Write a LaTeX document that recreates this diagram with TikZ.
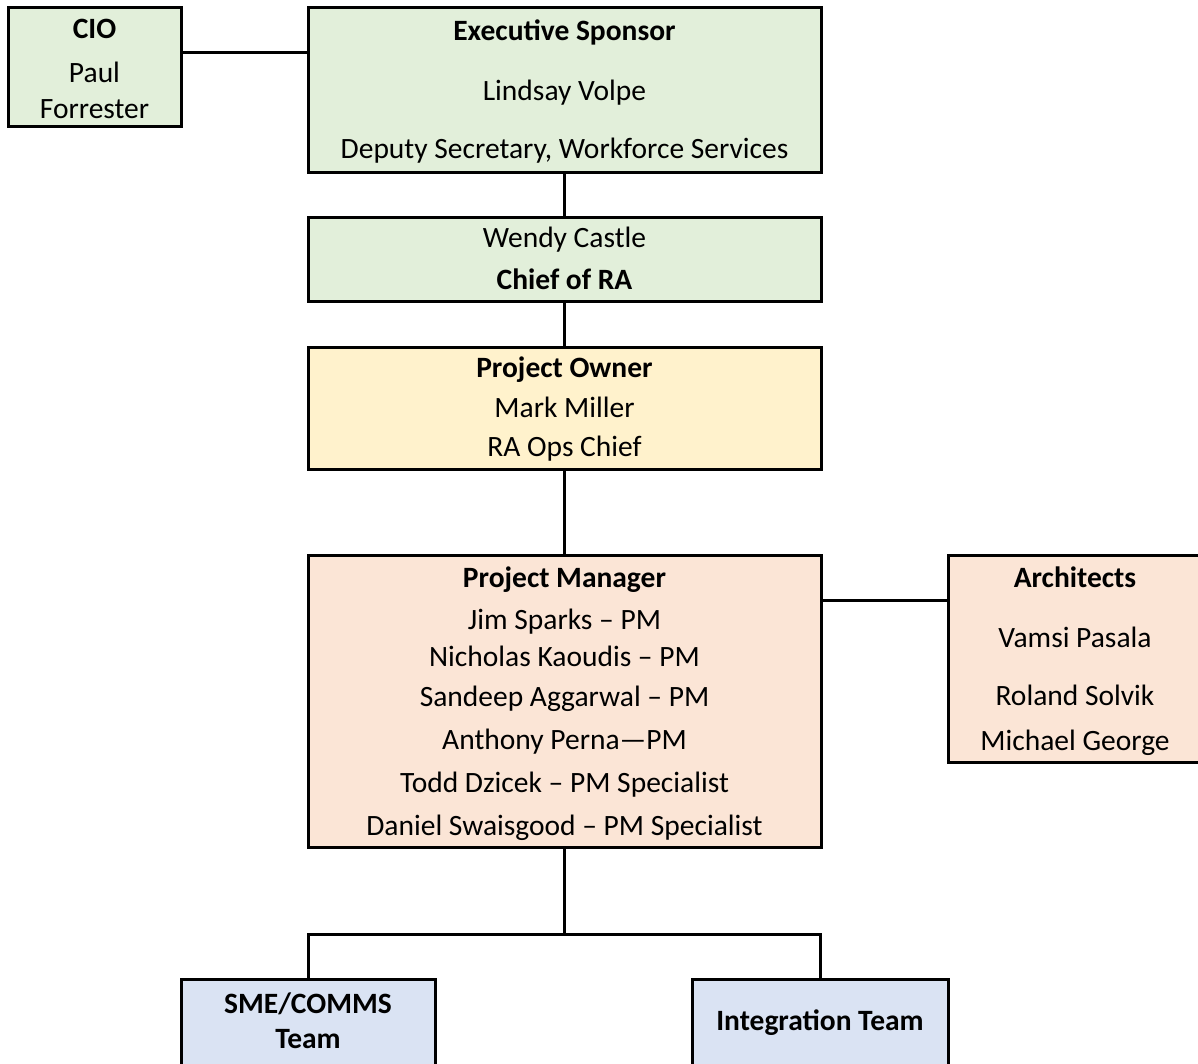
\documentclass[tikz,border=0pt]{standalone}
\usepackage{fontspec}
\setmainfont{Carlito}
\definecolor{sponsorgreen}{HTML}{E2EFDA}
\definecolor{owneryellow}{HTML}{FFF2CC}
\definecolor{pmpeach}{HTML}{FBE5D6}
\definecolor{teamblue}{HTML}{DAE3F3}
\tikzset{
  box/.style={draw=black, line width=3pt, rectangle, inner sep=0pt},
  txt/.style={anchor=base, inner sep=0pt, font=\fontsize{29.5}{34}\selectfont},
  btxt/.style={txt, font=\fontsize{29.5}{34}\selectfont\bfseries},
  link/.style={draw=black, line width=3pt}
}
\begin{document}
\begin{tikzpicture}[x=1pt, y=-1pt]
\useasboundingbox (0,0) rectangle (1198,1064);
\clip (0,0) rectangle (1198,1064);
\fill[white] (0,0) rectangle (1198,1064);

% boxes
\node[box, fill=sponsorgreen, minimum width=173pt, minimum height=119pt] (cio) at (94.5,67.5) {};
\node[box, fill=sponsorgreen, minimum width=513pt, minimum height=165pt] (exec) at (564.5,90.5) {};
\node[box, fill=sponsorgreen, minimum width=513pt, minimum height=84pt] (chief) at (564.5,260) {};
\node[box, fill=owneryellow, minimum width=513pt, minimum height=122pt] (owner) at (564.5,408) {};
\node[box, fill=pmpeach, minimum width=513pt, minimum height=292pt] (pm) at (564.5,701) {};
\node[box, fill=pmpeach, minimum width=262pt, minimum height=207pt] (arch) at (1079,658.5) {};
\node[box, fill=teamblue, minimum width=254pt, minimum height=110pt] (sme) at (308,1034) {};
\node[box, fill=teamblue, minimum width=256pt, minimum height=110pt] (integ) at (820,1034) {};

% connectors
\coordinate (ciolink) at (0,53);
\coordinate (archlink) at (0,600);
\coordinate (bus) at (0,934);
\draw[link] (cio.east |- ciolink) -- (exec.west |- ciolink);
\draw[link] (exec.south) -- (chief.north);
\draw[link] (chief.south) -- (owner.north);
\draw[link] (owner.south) -- (pm.north);
\draw[link] (pm.east |- archlink) -- (arch.west |- archlink);
\draw[link] (pm.south) -- (pm.south |- bus);
\draw[link] (sme.north) -- (sme.north |- bus) -- (integ.north |- bus) -- (integ.north);

% texts
\node[btxt] (t1) at (94.5,39) {CIO};
\node[txt] (t2) at (94.5,83) {Paul};
\node[txt] (t3) at (94.5,119) {Forrester};

\node[btxt] (t4) at (564.5,41) {Executive Sponsor};
\node[txt] (t5) at (564.5,101) {Lindsay Volpe};
\node[txt] (t6) at (564.5,159) {Deputy Secretary, Workforce Services};

\node[txt] (t7) at (564.5,248) {Wendy Castle};
\node[btxt] (t8) at (564.5,290) {Chief of RA};

\node[btxt] (t9) at (564.5,377) {Project Owner};
\node[txt] (t10) at (564.5,417) {Mark Miller};
\node[txt] (t11) at (564.5,456) {RA Ops Chief};

\node[btxt] (t12) at (564.5,587) {Project Manager};
\node[txt] (t13) at (564.5,629) {Jim Sparks – PM};
\node[txt] (t14) at (564.5,666) {Nicholas Kaoudis – PM};
\node[txt] (t15) at (564.5,706) {Sandeep Aggarwal – PM};
\node[txt] (t16) at (564.5,749) {Anthony Perna—PM};
\node[txt] (t17) at (564.5,792) {Todd Dzicek – PM Specialist};
\node[txt] (t18) at (564.5,835) {Daniel Swaisgood – PM Specialist};

\node[btxt] (t19) at (1075,587) {Architects};
\node[txt] (t20) at (1075,647) {Vamsi Pasala};
\node[txt] (t21) at (1075,705) {Roland Solvik};
\node[txt] (t22) at (1075,750) {Michael George};

\node[btxt] (t23) at (308,1013) {SME/COMMS};
\node[btxt] (t24) at (308,1048) {Team};
\node[btxt] (t25) at (820,1030) {Integration Team};
\end{tikzpicture}
\end{document}
